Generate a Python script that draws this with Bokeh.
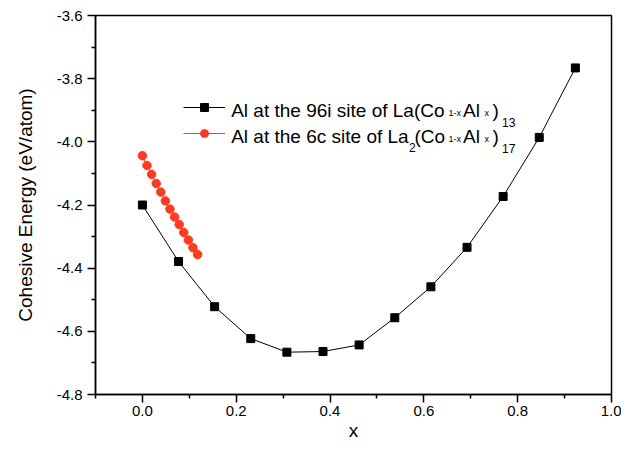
from bokeh.plotting import figure
from bokeh.models import (Range1d, FixedTicker, NumeralTickFormatter, Legend, LegendItem, Label)
from bokeh.embed import file_html
from bokeh.resources import INLINE

# ---- data ----
x_96i = [0.0, 0.077, 0.154, 0.231, 0.308, 0.385, 0.462, 0.538, 0.615, 0.692, 0.769, 0.846, 0.923]
e_96i = [-4.200, -4.379, -4.522, -4.623, -4.666, -4.664, -4.643, -4.557, -4.459, -4.334, -4.173, -3.986, -3.766]

x_6c = [0.0, 0.0098, 0.0196, 0.0294, 0.0392, 0.0490, 0.0588, 0.0686, 0.0784, 0.0882, 0.0980, 0.1078, 0.1176]
e_6c = [-4.044, -4.075, -4.103, -4.132, -4.159, -4.187, -4.213, -4.238, -4.262, -4.287, -4.311, -4.335, -4.357]

x_major = [0.0, 0.2, 0.4, 0.6, 0.8, 1.0]
x_minor = [-0.1, 0.1, 0.3, 0.5, 0.7, 0.9]
y_major = [-4.8, -4.6, -4.4, -4.2, -4.0, -3.8, -3.6]
y_minor = [-4.7, -4.5, -4.3, -4.1, -3.9, -3.7]

FONT = "Liberation Sans"
RED = "#ff3a22"

p = figure(width=621, height=444, output_backend="svg", toolbar_location=None,
           x_range=Range1d(-0.1, 1.0), y_range=Range1d(-4.8, -3.6),
           min_border_left=95, min_border_right=10, min_border_top=15, min_border_bottom=50)
p.xgrid.visible = False
p.ygrid.visible = False
p.background_fill_color = "white"
p.border_fill_color = "white"
p.outline_line_color = "black"
p.outline_line_width = 1.5

for ax in (p.xaxis[0], p.yaxis[0]):
    ax.axis_line_width = 1.5
    ax.major_tick_line_width = 1.5
    ax.minor_tick_line_width = 1.5
    ax.major_tick_in = 0
    ax.major_tick_out = 8
    ax.minor_tick_in = 0
    ax.minor_tick_out = 4
    ax.major_label_text_font = FONT
    ax.major_label_text_font_size = "15px"
    ax.major_label_text_color = "black"
    ax.axis_label_text_font = FONT
    ax.axis_label_text_font_size = "19px"
    ax.axis_label_text_font_style = "normal"
    ax.axis_label_text_color = "black"
    ax.formatter = NumeralTickFormatter(format="0.0")

p.xaxis[0].ticker = FixedTicker(ticks=x_major, minor_ticks=x_minor)
p.yaxis[0].ticker = FixedTicker(ticks=y_major, minor_ticks=y_minor)
p.xaxis[0].axis_label = "x"
p.xaxis[0].axis_label_standoff = 1
p.xaxis[0].major_label_standoff = 3
p.yaxis[0].axis_label = "Cohesive Energy (eV/atom)"
p.yaxis[0].axis_label_standoff = 18
p.yaxis[0].major_label_standoff = 5

l1 = p.line(x_96i, e_96i, line_color="black", line_width=1)
s1 = p.scatter(x_96i, e_96i, marker="square", size=8, fill_color="black", line_color="black")
l2 = p.line(x_6c, e_6c, line_color=RED, line_width=1)
s2 = p.scatter(x_6c, e_6c, marker="circle", size=8.5, fill_color=RED, line_color=RED)

# frame geometry (image px) for placing legend pieces
FL, FB = 95, 394

legend = Legend(items=[LegendItem(label=" ", renderers=[l1, s1]),
                       LegendItem(label=" ", renderers=[l2, s2])],
                location=(183 - FL, FB - 143.3), glyph_width=42, glyph_height=20,
                label_width=0, label_height=20, label_standoff=0, spacing=6,
                padding=0, margin=0, border_line_color=None, background_fill_alpha=0,
                label_text_font_size="1px")
p.add_layout(legend)

def put(text, X, Y, size, align="left"):
    p.add_layout(Label(x=X - FL, y=FB - Y, x_units="screen", y_units="screen", text=text,
                       text_font=FONT, text_font_size=size, text_baseline="alphabetic",
                       text_align=align, text_color="black"))

B1, B2 = 110, 136
put("Al at the 96i site of La(Co", 230.7, B1, "19px")
put("1-x", 448, B1 + 2.3, "9px")
put("Al", 462.5, B1, "19px")
put("x", 484, B1 + 2.3, "9px")
put(")", 492, B1, "19px")
put("13", 501.5, B1 + 11.7, "12px")

put("Al at the 6c site of La", 230.7, B2, "19px")
put("2", 408.5, B2 + 11, "12px")
put("(Co", 414, B2, "19px")
put("1-x", 448, B2 + 2.3, "9px")
put("Al", 462.5, B2, "19px")
put("x", 484, B2 + 2.3, "9px")
put(")", 492, B2, "19px")
put("17", 501.5, B2 + 12.3, "12px")

open("out.html", "w").write(file_html(p, INLINE))
